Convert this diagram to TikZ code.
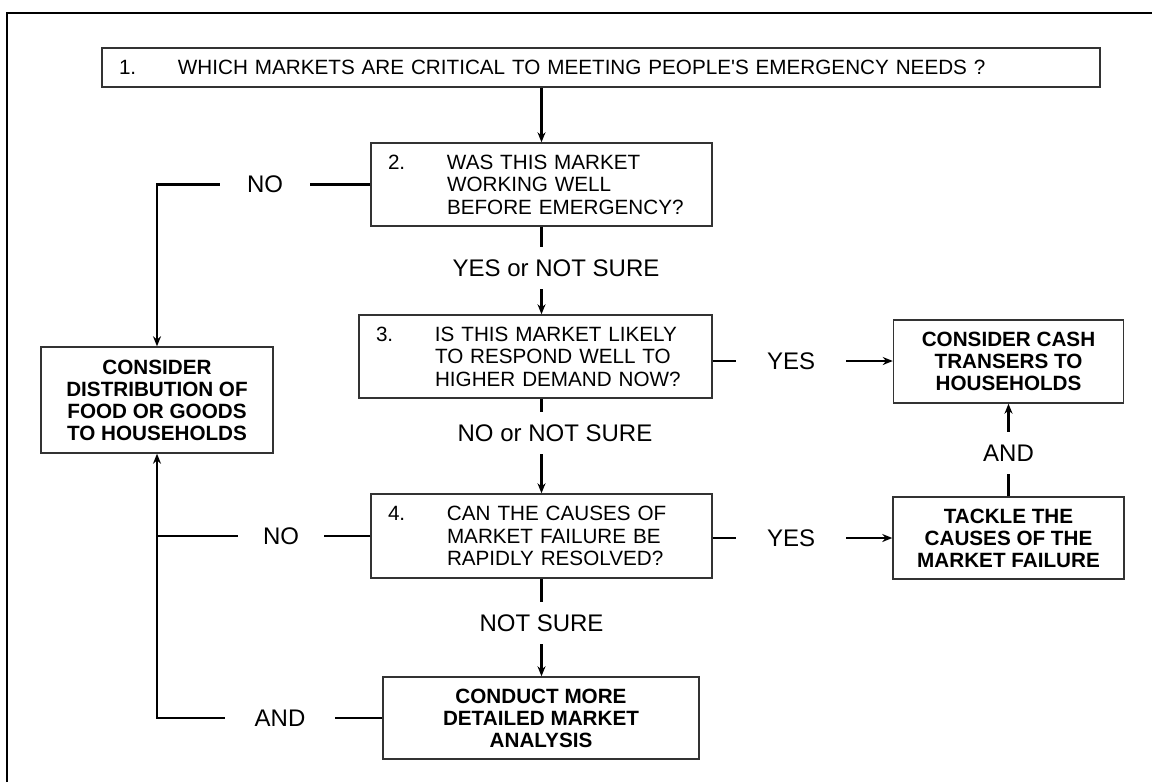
\documentclass[tikz,border=0pt]{standalone}
\usepackage{fontspec}
\setmainfont{Liberation Sans}
\usetikzlibrary{arrows.meta, positioning}

\newcommand{\qnum}[1]{\makebox[44.25pt][l]{#1}}
\newcommand{\qind}{\hspace*{44.25pt}}

\begin{document}
\begin{tikzpicture}[x=0.75pt, y=-0.75pt, every node/.style={font=\fontsize{15.5}{16.9}\selectfont},
	qbox/.style={draw=black!80, line width=1.1pt, rectangle, align=left, inner xsep=12.75pt, inner ysep=0pt},
	abox/.style={draw=black!80, line width=1.1pt, rectangle, align=center, font=\fontsize{15.5}{16.5}\selectfont\bfseries},
	lbl/.style={inner sep=0pt, minimum height=31.5pt, font=\fontsize{18}{20}\selectfont},
	line/.style={-, line width=2.2pt},
	post/.style={-{Stealth[length=7.5pt,width=6pt]}, line width=2.2pt}]

				\useasboundingbox (0,0) rectangle (1152,782);
				\draw[line width=1.7pt] (7,782) -- (7,13) -- (1152,13);

				\node [qbox] (Q1) at (601,67.5) [minimum height=29.25pt, text width=723pt]
					{\qnum{1.}WHICH MARKETS ARE CRITICAL TO MEETING PEOPLE\textquotesingle S EMERGENCY NEEDS ?};

				\node [qbox] (Q2) at (541.5,184.5) [minimum height=62.25pt, text width=230.25pt]
					{\qnum{2.}WAS THIS MARKET\\ \qind WORKING WELL\\ \qind BEFORE EMERGENCY?};

				\node [qbox] (Q3) at (535.5,356.5) [minimum height=62.25pt, text width=239.25pt]
					{\qnum{3.}IS THIS MARKET LIKELY\\ \qind TO RESPOND WELL TO\\ \qind HIGHER DEMAND NOW?};

				\node [qbox] (Q4) at (541.5,536) [minimum height=63pt, text width=230.25pt]
					{\qnum{4.}CAN THE CAUSES OF\\ \qind MARKET FAILURE BE\\ \qind RAPIDLY RESOLVED?};

				\node [abox] (CFD) at (157,400) [minimum width=174pt, minimum height=79.5pt]
					{CONSIDER\\DISTRIBUTION OF\\FOOD OR GOODS\\TO HOUSEHOLDS};

				\node [abox] (TCM) at (1008.5,538) [minimum width=173.25pt, minimum height=61.5pt]
					{TACKLE THE\\CAUSES OF THE\\MARKET FAILURE};

				\node [abox] (CCT) [node distance=132.4pt, above of=TCM, minimum width=172.5pt, minimum height=62.25pt]
					{CONSIDER CASH\\TRANSERS TO\\HOUSEHOLDS};

				\node [abox] (CMA) at (541,718) [minimum width=237pt, minimum height=61.5pt]
					{CONDUCT MORE\\DETAILED MARKET\\ANALYSIS};

				\node [lbl] (LYN) at (556,268) {YES or NOT SURE};
				\node [lbl] (LNN) at (555,433) {NO or NOT SURE};
				\node [lbl] (LNS) [node distance=65.25pt, below of=Q4] {NOT SURE};
				\node [lbl] (LAND2) [node distance=63.75pt, above of=TCM] {AND};

				\node [lbl] (LNO2) at (265,184.5) [minimum width=67.5pt] {NO};
				\node [lbl] (LNO4) at (281,536) [minimum width=64.5pt] {NO};
				\node [lbl] (LAND) at (280,718) [minimum width=82.5pt] {AND};
				\node [lbl] (LYES3) at (791,361) [minimum width=82.5pt] {YES};
				\node [lbl] (LYES4) at (791,538) [minimum width=82.5pt] {YES};

				\draw[post] (Q1.south -| Q2.north) -- (Q2.north);
				\draw[line] (Q2.south) -- (Q2.south |- LYN.north);
				\draw[post] (Q2.south |- LYN.south) -- (Q2.south |- Q3.north);
				\draw[line] (Q2.south |- Q3.south) -- (Q2.south |- LNN.north);
				\draw[post] (Q2.south |- LNN.south) -- (Q4.north);
				\draw[line] (Q4.south) -- (LNS.north);
				\draw[post] (LNS.south) -- (LNS.south |- CMA.north);

				\draw[line] (Q2.west) -- (LNO2.east);
				\draw[post] (LNO2.west) -| (CFD.north);
				\draw[line] (Q4.west) -- (LNO4.east);
				\draw[line] (LNO4.west) -- (LNO4.west -| CFD.south);
				\draw[line] (CMA.west) -- (LAND.east);
				\draw[post] (LAND.west) -| (CFD.south);

				\draw[line] (Q3.east |- LYES3) -- (LYES3.west);
				\draw[post] (LYES3.east) -- (LYES3.east -| CCT.west);
				\draw[line] (Q4.east |- LYES4) -- (LYES4.west);
				\draw[post] (LYES4.east) -- (LYES4.east -| TCM.west);
				\draw[line] (TCM.north) -- (LAND2.south);
				\draw[post] (LAND2.north) -- (CCT.south);

			\end{tikzpicture}
\end{document}
